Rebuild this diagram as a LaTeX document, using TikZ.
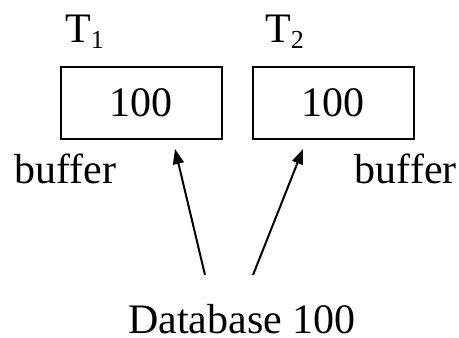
\documentclass[tikz,border=0pt]{standalone}
\usepackage{fontspec}
\setmainfont{Liberation Serif}
\usetikzlibrary{arrows.meta}
\begin{document}
\begin{tikzpicture}[
	x=1pt, y=-1pt,
	testo/.style={font=\fontsize{42}{44}\selectfont, inner sep=0pt},
	cella/.style={draw=black, line width=2pt, minimum width=161pt,
		minimum height=72pt, inner sep=0pt, font=\fontsize{42}{44}\selectfont},
	freccia/.style={line width=2pt, -{Triangle[length=15pt, width=11pt]}},
	]
	\newcommand{\pedice}[1]{\raisebox{-6pt}{\fontsize{26}{26}\selectfont #1}}
	\useasboundingbox (0,0) rectangle (459,338);
	
	%% buffer delle due transazioni
	\node[cella] (b1) at (141.5,103) {100};
	\node[cella] (b2) at (333,103) {100};
	\node[testo, anchor=base west] (t1) at (65,42) {T\pedice{1}};
	\node[testo, anchor=base west] (t2) at (265,42) {T\pedice{2}};
	\node[testo, anchor=base west] (l1) at (14,183) {buffer};
	\node[testo, anchor=base east] (l2) at (457,183) {buffer};
	
	%% database e letture
	\node[testo, anchor=base] (db) at (242,333) {Database 100};
	\coordinate (s1) at (205,275);
	\coordinate (s2) at (253,275);
	\coordinate (e1) at (175,149);
	\coordinate (e2) at (303,149);
	\draw[freccia] (s1) -- (e1);
	\draw[freccia] (s2) -- (e2);
\end{tikzpicture}
\end{document}
